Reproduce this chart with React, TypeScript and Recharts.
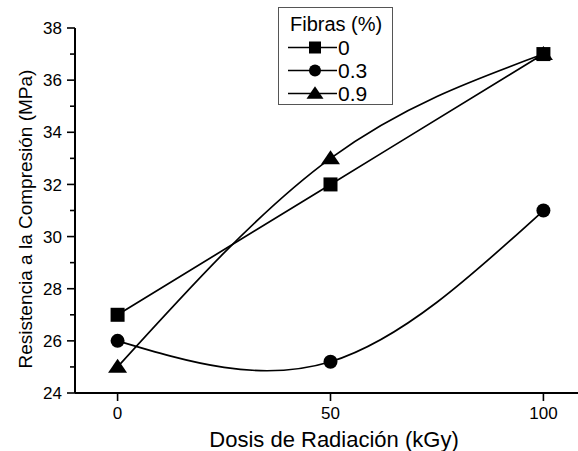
import React from "react";
import { LineChart, Line, XAxis, YAxis, Legend } from "recharts";

// Dosis de radiación (kGy)
const doses = [0, 50, 100];
// Resistencia a la compresión (MPa) por contenido de fibras
const fibras0 = [27, 32, 37];
const fibras03 = [26, 25.2, 31];
const fibras09 = [25, 33, 37];
const seriesNames = ["0", "0.3", "0.9"];
const seriesKeys = ["f0", "f03", "f09"];

const xTicks = [0, 50, 100];
const yTicks = [24, 25, 26, 27, 28, 29, 30, 31, 32, 33, 34, 35, 36, 37, 38];

const data = doses.map((dose, i) => ({
  dose,
  f0: fibras0[i],
  f03: fibras03[i],
  f09: fibras09[i],
}));

const FONT = "'Liberation Sans', Arial, Helvetica, sans-serif";
const AXIS_X = 75;

type MarkerProps = { cx: number; cy: number; size?: number };

const SquareMark = ({ cx, cy, size = 14 }: MarkerProps) => (
  <rect x={cx - size / 2} y={cy - size / 2} width={size} height={size} fill="#000" />
);

const CircleMark = ({ cx, cy, size = 14 }: MarkerProps) => (
  <circle cx={cx} cy={cy} r={size / 2} fill="#000" />
);

const TriangleMark = ({ cx, cy, size = 19 }: MarkerProps) => {
  const h = size * 0.74;
  return (
    <path
      d={`M${cx},${cy - h * 0.58} L${cx + size / 2},${cy + h * 0.42} L${cx - size / 2},${cy + h * 0.42} Z`}
      fill="#000"
    />
  );
};

const markers = [SquareMark, CircleMark, TriangleMark];

const makeDot = (Mark: (p: MarkerProps) => React.ReactElement) => (p: any) => (
  <Mark key={`dot-${p.index}`} cx={p.cx} cy={p.cy} />
);

const YTick = (props: any) => {
  const { y, payload } = props;
  const major = payload.value % 2 === 0;
  return (
    <g>
      <line
        x1={AXIS_X - (major ? 8 : 5)}
        x2={AXIS_X}
        y1={y}
        y2={y}
        stroke="#000"
        strokeWidth={1.6}
      />
      {major && (
        <text
          x={AXIS_X - 13}
          y={y}
          dy="0.36em"
          textAnchor="end"
          fontSize={17}
          fontFamily={FONT}
          fill="#000"
        >
          {payload.value}
        </text>
      )}
    </g>
  );
};

const FibrasLegend = () => (
  <svg width={115} height={98} style={{ display: "block" }}>
    <rect x={0.5} y={0.5} width={114} height={97} fill="#fff" stroke="#555" />
    <text x={12} y={24} fontSize={20} fontFamily={FONT} fill="#000">
      Fibras (%)
    </text>
    {seriesNames.map((name, i) => {
      const cy = 40.5 + i * 23;
      const Mark = markers[i];
      return (
        <g key={name}>
          <line x1={10} x2={59} y1={cy} y2={cy} stroke="#000" strokeWidth={1.6} />
          <Mark cx={37} cy={cy} size={i === 2 ? 17 : 12} />
          <text x={60} y={cy} dy="0.36em" fontSize={21} fontFamily={FONT} fill="#000">
            {name}
          </text>
        </g>
      );
    })}
  </svg>
);

export default function App() {
  return (
    <div
      style={{
        position: "absolute",
        left: 0,
        top: 0,
        width: 578,
        height: 451,
        overflow: "hidden",
        background: "#fff",
      }}
    >
      <LineChart
        width={586}
        height={451}
        data={data}
        margin={{ top: 28, right: 0, bottom: 0, left: 0 }}
      >
        <XAxis
          dataKey="dose"
          type="number"
          domain={[-10, 110]}
          ticks={xTicks}
          height={58}
          axisLine={{ stroke: "#000", strokeWidth: 2 }}
          tickLine={{ stroke: "#000", strokeWidth: 1.6 }}
          tickSize={8}
          tickMargin={6}
          tick={{ fill: "#000", fontSize: 17, fontFamily: FONT }}
          label={{
            content: () => (
              <text
                x={334}
                y={447}
                textAnchor="middle"
                fontSize={22}
                fontFamily={FONT}
                fill="#000"
              >
                Dosis de Radiación (kGy)
              </text>
            ),
          }}
        />
        <YAxis
          type="number"
          domain={[24, 38]}
          ticks={yTicks}
          interval={0}
          width={AXIS_X}
          axisLine={{ stroke: "#000", strokeWidth: 2 }}
          tickLine={false}
          tick={<YTick />}
          label={{
            content: () => (
              <text
                x={25}
                y={219}
                transform="rotate(-90 25 219)"
                textAnchor="middle"
                dominantBaseline="central"
                fontSize={19}
                fontFamily={FONT}
                fill="#000"
              >
                Resistencia a la Compresión (MPa)
              </text>
            ),
          }}
        />
        <Legend
          layout="vertical"
          align="center"
          verticalAlign="middle"
          wrapperStyle={{ left: 278, top: 7, width: 115, height: 98 }}
          content={() => <FibrasLegend />}
        />
        {seriesKeys.map((key, i) => (
          <Line
            key={key}
            dataKey={key}
            name={seriesNames[i]}
            type="natural"
            stroke="#000"
            strokeWidth={1.7}
            dot={makeDot(markers[i])}
            activeDot={false}
            isAnimationActive={false}
          />
        ))}
      </LineChart>
    </div>
  );
}
